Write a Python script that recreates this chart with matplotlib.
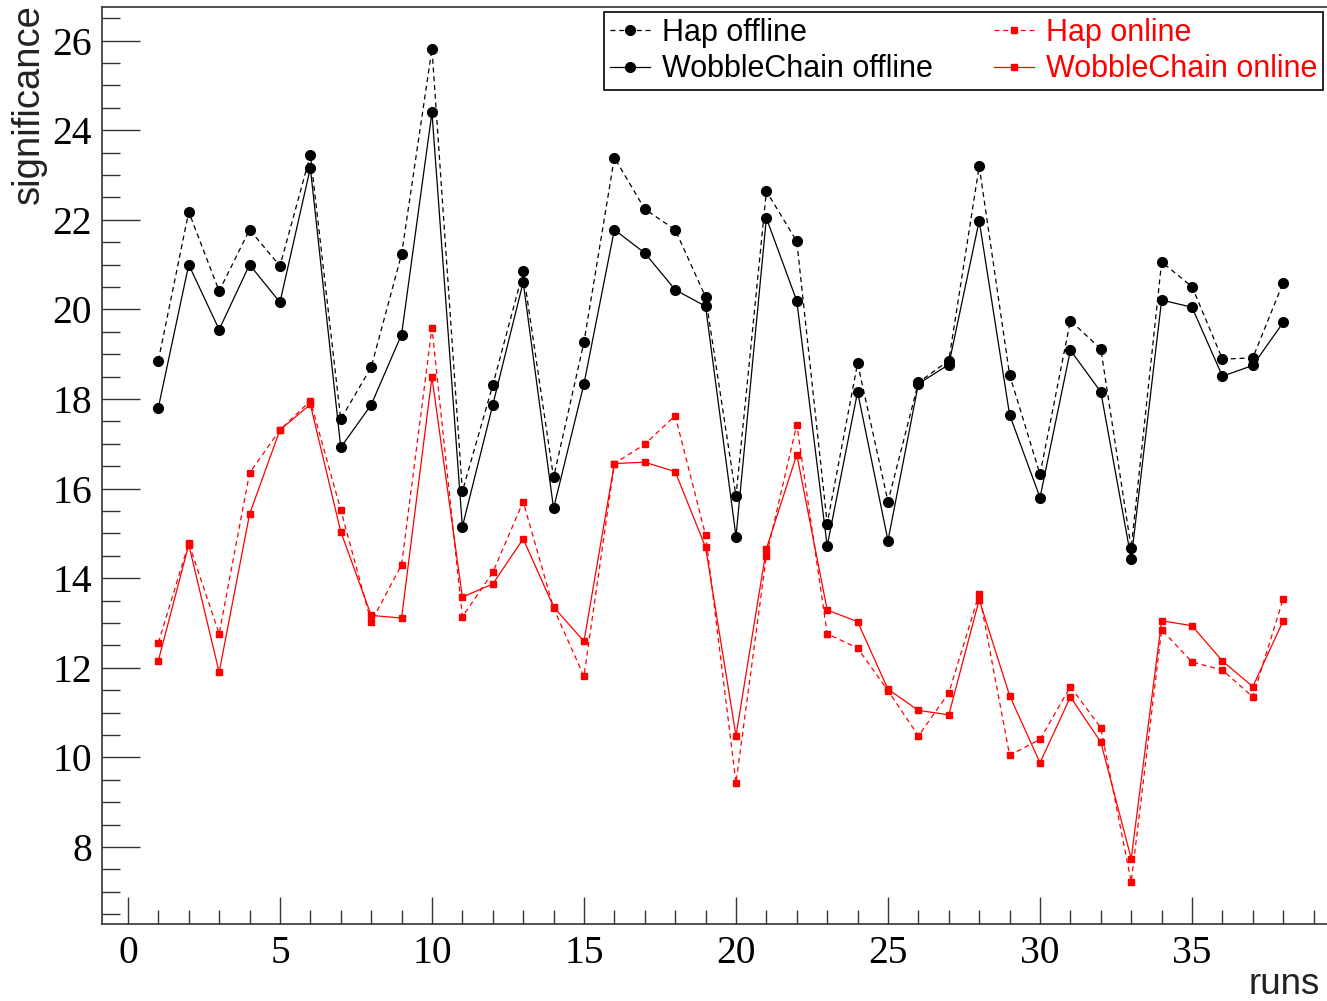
import matplotlib
matplotlib.use("Agg")
import matplotlib.pyplot as plt
from matplotlib.ticker import MultipleLocator

# values
runs = list(range(1, 39))
hap_offline = [18.86, 22.18, 20.41, 21.78, 20.97, 23.45, 17.55, 18.71, 21.23, 25.82,
               15.94, 18.31, 20.85, 16.25, 19.27, 23.39, 22.24, 21.78, 20.28, 15.83,
               22.64, 21.52, 15.22, 18.80, 15.71, 18.37, 18.86, 23.20, 18.54, 16.32,
               19.75, 19.12, 14.67, 21.06, 20.51, 18.89, 18.92, 20.60]
wobble_offline = [17.81, 21.00, 19.55, 21.00, 20.16, 23.16, 16.92, 17.87, 19.44, 24.40,
                  15.15, 17.87, 20.61, 15.56, 18.34, 21.78, 21.26, 20.44, 20.07, 14.93,
                  22.04, 20.19, 14.72, 18.16, 14.84, 18.34, 18.77, 21.98, 17.65, 15.80,
                  19.09, 18.16, 14.43, 20.21, 20.05, 18.51, 18.75, 19.71]
hap_online = [12.56, 14.78, 12.76, 16.35, 17.31, 17.96, 15.53, 13.02, 14.30, 19.59,
              13.14, 14.13, 15.71, 13.33, 11.81, 16.56, 16.99, 17.63, 14.96, 9.43,
              14.50, 17.43, 12.76, 12.44, 11.49, 10.48, 11.44, 13.65, 10.05, 10.40,
              11.58, 10.66, 7.22, 12.85, 12.13, 11.95, 11.35, 13.54]
wobble_online = [12.16, 14.75, 11.90, 15.43, 17.31, 17.88, 15.04, 13.17, 13.11, 18.49,
                 13.58, 13.87, 14.88, 13.36, 12.59, 16.56, 16.59, 16.38, 14.69, 10.48,
                 14.66, 16.76, 13.29, 13.03, 11.52, 11.05, 10.95, 13.52, 11.38, 9.88,
                 11.35, 10.34, 7.74, 13.05, 12.94, 12.15, 11.58, 13.05]

fig = plt.figure(figsize=(13.27, 10.01), dpi=100)
ax = fig.add_axes([0.0766, 0.0769, 0.9234, 0.916])

dash = (0, (4, 3))
ax.plot(runs, hap_offline, color='black', ls=dash, lw=0.9, marker='o', ms=7,
        label='Hap offline')
ax.plot(runs, wobble_offline, color='black', ls='-', lw=0.9, marker='o', ms=7,
        label='WobbleChain offline')
ax.plot(runs, hap_online, color='red', ls=dash, lw=0.9, marker='s', ms=5,
        label='Hap online')
ax.plot(runs, wobble_online, color='red', ls='-', lw=0.9, marker='s', ms=5,
        label='WobbleChain online')

ax.set_xlim(-0.865, 39.44)
ax.set_ylim(6.28, 26.75)

ax.xaxis.set_major_locator(MultipleLocator(5))
ax.xaxis.set_minor_locator(MultipleLocator(1))
ax.yaxis.set_major_locator(MultipleLocator(2))
ax.yaxis.set_minor_locator(MultipleLocator(0.5))

ax.tick_params(axis='both', which='both', direction='in', color='#333333', width=1,
               top=False, right=False)
ax.tick_params(axis='x', which='major', length=19.5, pad=8)
ax.tick_params(axis='x', which='minor', length=10)
ax.tick_params(axis='y', which='major', length=27, pad=7)
ax.tick_params(axis='y', which='minor', length=13)
for lab in ax.get_xticklabels() + ax.get_yticklabels():
    lab.set_family('Liberation Serif')
    lab.set_fontsize(28.5)

for side in ['left', 'bottom', 'top']:
    ax.spines[side].set_color('#333333')
    ax.spines[side].set_linewidth(1.2)
ax.spines['right'].set_visible(False)

fig.text(29 / 1327, 1 - 4 / 1001, 'significance', rotation=90, ha='center', va='top',
         fontsize=27.5, family='Liberation Sans', color='#222222')
fig.text(1320 / 1327, 1 - 994 / 1001, 'runs', ha='right', va='baseline',
         fontsize=26.5, family='Liberation Sans', color='#222222')

leg = ax.legend(ncol=2, loc='upper left', bbox_to_anchor=(604 / 1327, 1 - 12 / 1001),
                bbox_transform=fig.transFigure, prop={'family': 'Liberation Sans', 'size': 22},
                handlelength=1.3, handletextpad=0.4, columnspacing=2.0, borderpad=0.2,
                labelspacing=0.2, fancybox=False, framealpha=1, borderaxespad=0)
leg.get_frame().set_edgecolor('black')
leg.get_frame().set_linewidth(1.2)
for txt, col in zip(leg.get_texts(), ['black', 'black', 'red', 'red']):
    txt.set_color(col)

fig.savefig('out.png', dpi=100)
